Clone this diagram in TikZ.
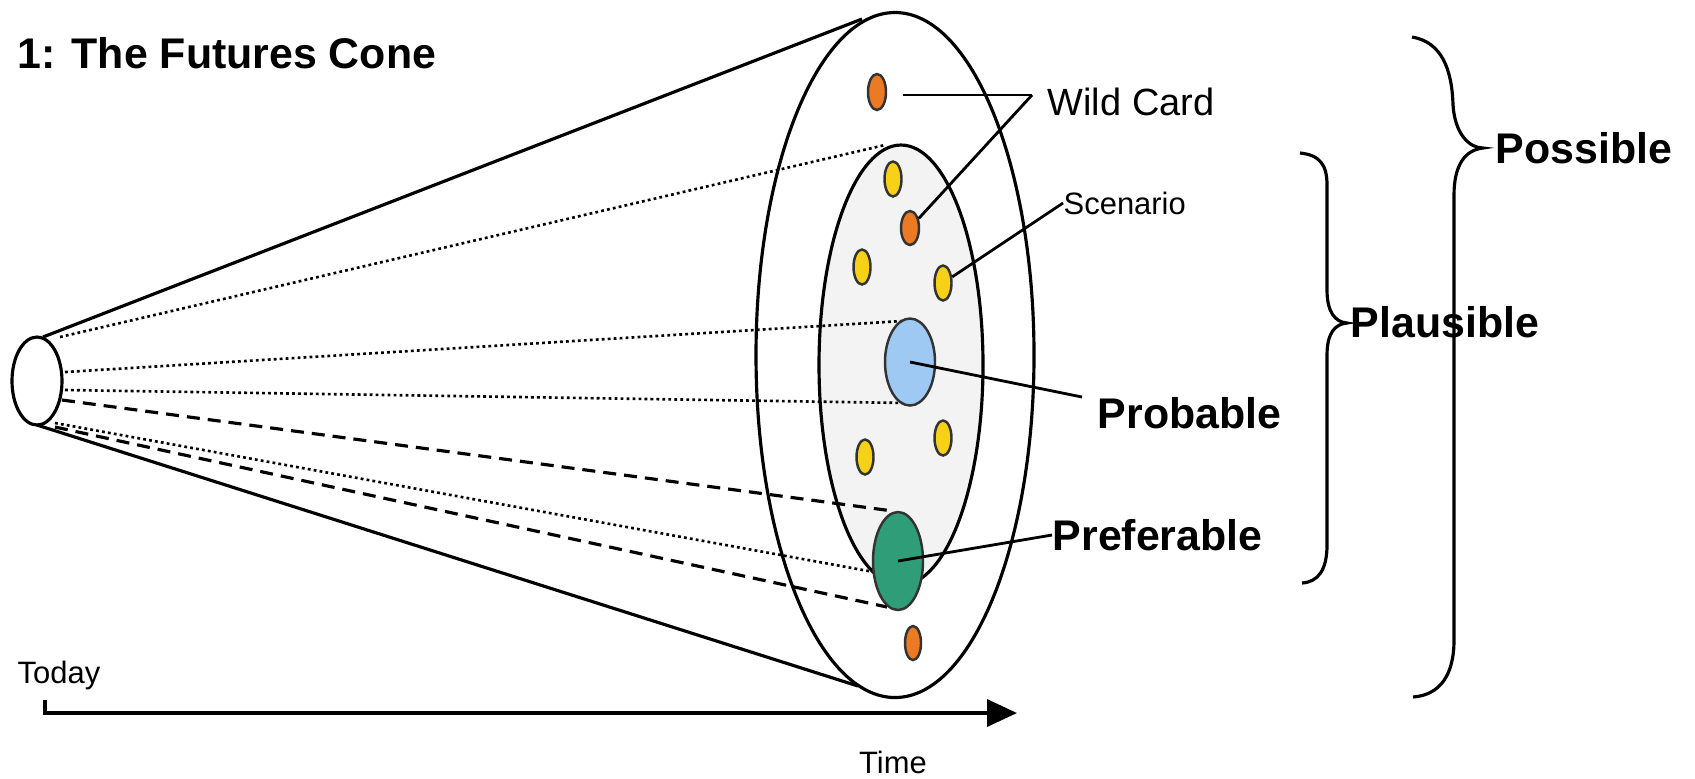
\documentclass[tikz,border=0pt]{standalone}
\usepackage{fontspec}
\setmainfont{Liberation Sans}
\usetikzlibrary{arrows.meta, shapes.geometric}
\definecolor{wildorange}{HTML}{EC7A23}
\definecolor{scenyellow}{HTML}{F7D117}
\definecolor{probblue}{HTML}{9DC9F2}
\definecolor{prefgreen}{HTML}{2E9D78}
\definecolor{plausgray}{HTML}{F3F3F3}
\tikzset{
  conerim/.style={ellipse, draw, line width=0.9pt, inner sep=0pt},
  coneside/.style={line width=0.9pt},
  dotray/.style={line width=0.75pt, dash pattern=on 0.8pt off 0.9pt},
  dashray/.style={line width=0.9pt, dash pattern=on 0.13cm off 0.08cm},
  spot/.style={ellipse, draw=black!80, line width=0.7pt, inner sep=0pt,
    minimum width=0.18cm, minimum height=0.36cm},
  wcdot/.style={spot, fill=wildorange},
  scdot/.style={spot, fill=scenyellow},
  leader/.style={line width=0.8pt},
  bracepath/.style={line width=0.9pt},
  bigtag/.style={font=\bfseries\fontsize{12.2}{14}\selectfont, inner sep=0pt, anchor=west},
  smalltag/.style={font=\fontsize{8.8}{10}\selectfont, inner sep=0pt, anchor=west},
}

\begin{document}
\begin{tikzpicture}[x=1cm, y=-1cm]
  \useasboundingbox (0,0) rectangle (16.95,7.78);

  % title
  \node[bigtag] (title) at (0.17,0.53) {1: The Futures Cone};

  % today and the far rim of the cone
  \node[conerim, minimum width=0.50cm, minimum height=0.88cm] (today) at (0.37,3.81) {};
  \node[conerim, minimum width=2.78cm, minimum height=6.85cm] (outer) at (8.95,3.55) {};
  \node[conerim, fill=plausgray, minimum width=1.64cm, minimum height=4.40cm] (inner) at (9.01,3.65) {};

  % sides of the cone
  \coordinate (ctop) at (0.43,3.37);
  \coordinate (cbot) at (0.37,4.25);
  \coordinate (rtop) at (8.62,0.19);
  \coordinate (rbot) at (8.58,6.86);
  \draw[coneside] (ctop) -- (rtop);
  \draw[coneside] (cbot) -- (rbot);

  % rays from today to the plausible and preferable futures
  \coordinate (s1) at (0.60,3.37); \coordinate (t1) at (8.85,1.45);
  \coordinate (s2) at (0.65,3.72); \coordinate (t2) at (9.02,3.21);
  \coordinate (s3) at (0.65,3.90); \coordinate (t3) at (9.07,4.03);
  \coordinate (s4) at (0.62,4.00); \coordinate (t4) at (8.93,5.11);
  \coordinate (s5) at (0.55,4.23); \coordinate (t5) at (8.74,5.72);
  \coordinate (s6) at (0.55,4.27); \coordinate (t6) at (8.87,6.07);
  \foreach \i/\sty in {1/dotray,2/dotray,3/dotray,4/dashray,5/dotray,6/dashray}
    \draw[\sty] (s\i) -- (t\i);

  % wild cards and scenarios
  \node[wcdot] (wc1) at (8.77,0.92) {};
  \node[wcdot, minimum height=0.34cm] (wc2) at (9.10,2.28) {};
  \node[wcdot, minimum width=0.16cm, minimum height=0.34cm] (wc3) at (9.13,6.43) {};
  \foreach \n/\x/\y in {1/8.93/1.79, 2/8.62/2.67, 3/9.43/2.83, 4/8.65/4.57, 5/9.43/4.38}
    \node[scdot, minimum width=0.17cm, minimum height=0.35cm] (sc\n) at (\x,\y) {};

  % probable and preferable
  \node[spot, fill=probblue, minimum width=0.50cm, minimum height=0.87cm] (prob) at (9.10,3.62) {};
  \node[spot, fill=prefgreen, minimum width=0.50cm, minimum height=0.98cm] (pref) at (8.98,5.61) {};

  % labels and their leaders
  \node[smalltag, font=\fontsize{10.8}{12}\selectfont] (wclbl) at (10.47,1.02) {Wild Card};
  \coordinate (wcs) at (9.03,0.95);
  \coordinate (wcj) at (10.32,0.95);
  \draw[leader] (wcs) -- (wcj);
  \draw[leader] (wcj) -- (wc2);

  \node[smalltag] (sclbl) at (10.63,2.03) {Scenario};
  \draw[leader] (sc3) -- (sclbl.west);

  \node[bigtag] (problbl) at (10.97,4.13) {Probable};
  \coordinate (probj) at (10.82,3.97);
  \draw[leader] (prob.center) -- (probj);

  \node[bigtag] (preflbl) at (10.52,5.35) {Preferable};
  \draw[leader] (pref.center) -- (preflbl.west);

  % braces
  \draw[bracepath] (13.00,1.53) .. controls (13.20,1.55) and (13.27,1.65) .. (13.27,1.85)
    -- (13.27,2.90) .. controls (13.27,3.12) and (13.35,3.22) .. (13.47,3.23)
    .. controls (13.35,3.24) and (13.27,3.33) .. (13.27,3.55)
    -- (13.27,5.45) .. controls (13.27,5.70) and (13.18,5.82) .. (13.02,5.83);
  \node[bigtag] (plauslbl) at (13.50,3.22) {Plausible};

  \draw[bracepath] (14.12,0.37) .. controls (14.42,0.42) and (14.52,0.70) .. (14.53,1.05)
    .. controls (14.55,1.35) and (14.70,1.48) .. (14.83,1.48)
    .. controls (14.65,1.50) and (14.54,1.65) .. (14.54,1.95)
    -- (14.54,6.40) .. controls (14.54,6.75) and (14.40,6.95) .. (14.13,6.97);
  \node[bigtag] (posslbl) at (14.95,1.48) {Possible};

  % time axis
  \node[smalltag] (todaylbl) at (0.17,6.75) {Today};
  \coordinate (ax0) at (0.45,7.00);
  \coordinate (ax1) at (10.17,7.13);
  \draw[line width=1pt, -{Triangle[length=0.30cm, width=0.27cm]}] (ax0) |- (ax1);
  \node[smalltag, anchor=center] (timelbl) at (8.93,7.62) {Time};
\end{tikzpicture}
\end{document}
